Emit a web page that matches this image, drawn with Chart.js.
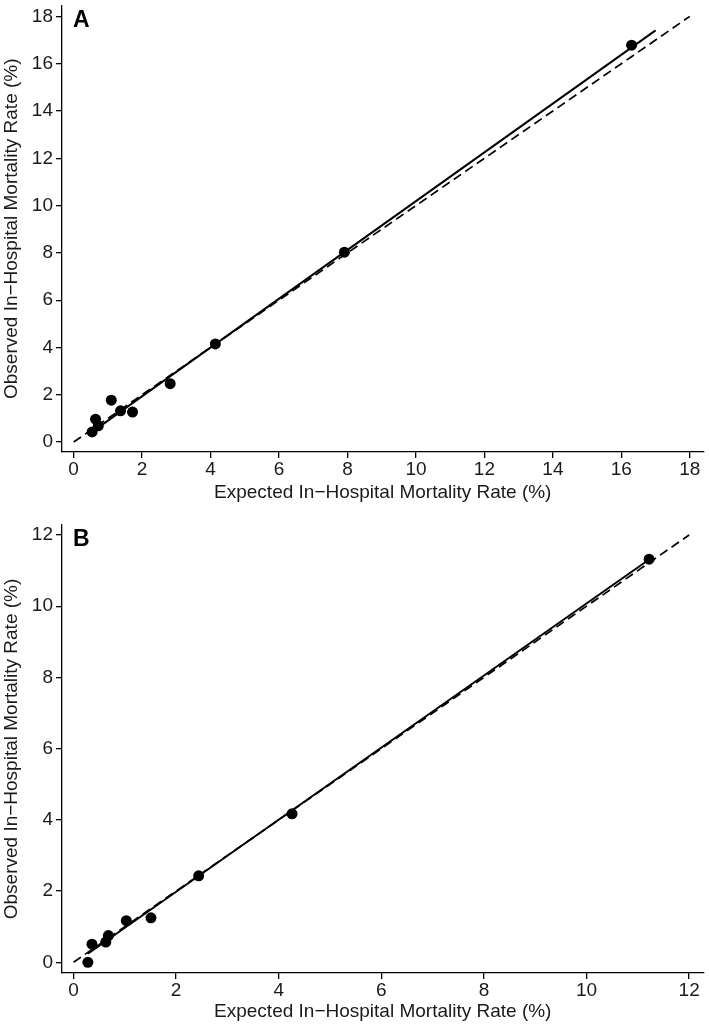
<!DOCTYPE html>
<html lang="en">
<head>
  <meta charset="UTF-8">
  <title>Observed vs Expected In-Hospital Mortality</title>
  <script src="https://cdn.jsdelivr.net/npm/chart.js"></script>
  <style>
    * { margin: 0; padding: 0; box-sizing: border-box; }
    html, body { width: 709px; height: 1024px; overflow: hidden; background: #fff; }
    canvas { position: absolute; left: 0; }
    #chartA { top: 0; }
    #chartB { top: 515px; }
  </style>
</head>
<body>
  <canvas id="chartA" width="709" height="510"></canvas>
  <canvas id="chartB" width="709" height="509"></canvas>

  <script>
    // Panel A - expected vs observed (%), one point per group
    const expectedA = [0.54, 0.64, 0.72, 1.10, 1.37, 1.72, 2.82, 4.14, 7.91, 16.30];
    const observedA = [0.43, 0.97, 0.69, 1.77, 1.32, 1.27, 2.47, 4.15, 8.03, 16.78];
    const fitAX = [0.50, 17.00];
    const fitAY = [0.39, 17.41];
    const refAX = [0, 18];
    const refAY = [0, 18];
    const ticksA = [0, 2, 4, 6, 8, 10, 12, 14, 16, 18];

    // Panel B
    const expectedB = [0.28, 0.36, 0.63, 0.68, 1.03, 1.51, 2.44, 4.26, 11.22];
    const observedB = [0.00, 0.51, 0.57, 0.75, 1.17, 1.25, 2.43, 4.17, 11.32];
    const fitBX = [0.28, 11.22];
    const fitBY = [0.24, 11.31];
    const refBX = [0, 12];
    const refBY = [0, 12];
    const ticksB = [0, 2, 4, 6, 8, 10, 12];

    const xLabel = 'Expected In\u2212Hospital Mortality Rate (%)';
    const yLabel = 'Observed In\u2212Hospital Mortality Rate (%)';
    const FONT = 'Liberation Sans, Arial, Helvetica, sans-serif';

    const zip = (xs, ys) => xs.map((x, i) => ({ x: x, y: ys[i] }));

    function axis(ticks, min, max, label, isX, p) {
      return {
        type: 'linear',
        min: min,
        max: max,
        afterBuildTicks: s => { s.ticks = ticks.map(v => ({ value: v })); },
        afterFit: s => {
          // no extra room for edge labels, plot box is fixed
          if (isX) s.height = p.xAxisH; else s.width = 62;
          s.paddingTop = s.paddingBottom = s.paddingLeft = s.paddingRight = 0;
        },
        grid: { drawOnChartArea: false, drawTicks: true, tickLength: 6, color: '#000', lineWidth: 1.3 },
        border: { display: true, color: '#000', width: 1.3 },
        ticks: { color: '#1a1a1a', font: { family: FONT, size: 19 }, padding: isX ? 0 : 3, maxRotation: 0, autoSkip: false },
        title: {
          display: true, text: label, color: '#1a1a1a',
          font: { family: FONT, size: 19 },
          padding: isX ? { top: 0, bottom: p.titlePad } : { top: 0, bottom: 0 }
        }
      };
    }

    // panel letter in the top-left corner of the plot
    const letterPlugin = {
      id: 'letter',
      afterDraw(chart, args, opts) {
        const { ctx, chartArea } = chart;
        ctx.save();
        ctx.font = 'bold 23px ' + FONT;
        ctx.fillStyle = '#000';
        ctx.fillText(opts.text, chartArea.left + 11, chartArea.top + 21);
        ctx.restore();
      }
    };

    function panel(id, p) {
      new Chart(document.getElementById(id), {
        type: 'scatter',
        data: {
          datasets: [
            {
              data: zip(p.refX, p.refY), showLine: true, pointRadius: 0,
              borderColor: '#000', borderWidth: 1.7, borderDash: [9, 5]
            },
            {
              data: zip(p.fitX, p.fitY), showLine: true, pointRadius: 0,
              borderColor: '#000', borderWidth: 2
            },
            {
              data: zip(p.xs, p.ys), pointRadius: 5.5, borderWidth: 0,
              backgroundColor: '#000', pointBackgroundColor: '#000'
            }
          ]
        },
        plugins: [letterPlugin],
        options: {
          responsive: false,
          animation: false,
          layout: { padding: { top: p.padTop, right: 0, bottom: 0, left: 0 } },
          scales: {
            x: axis(p.ticks, p.xMin, p.xMax, xLabel, true, p),
            y: axis(p.ticks, p.yMin, p.yMax, yLabel, false, p)
          },
          plugins: {
            legend: { display: false },
            tooltip: { enabled: false },
            letter: { text: p.letter }
          }
        }
      });
    }

    panel('chartA', {
      xs: expectedA, ys: observedA, fitX: fitAX, fitY: fitAY, refX: refAX, refY: refAY,
      ticks: ticksA, xMin: -0.34, xMax: 18.40, yMin: -0.42, yMax: 18.46,
      padTop: 3, xAxisH: 58, titlePad: 6, letter: 'A'
    });

    panel('chartB', {
      xs: expectedB, ys: observedB, fitX: fitBX, fitY: fitBY, refX: refBX, refY: refBY,
      ticks: ticksB, xMin: -0.224, xMax: 12.28, yMin: -0.30, yMax: 12.28,
      padTop: 10, xAxisH: 51, titlePad: 1, letter: 'B'
    });
  </script>
</body>
</html>
